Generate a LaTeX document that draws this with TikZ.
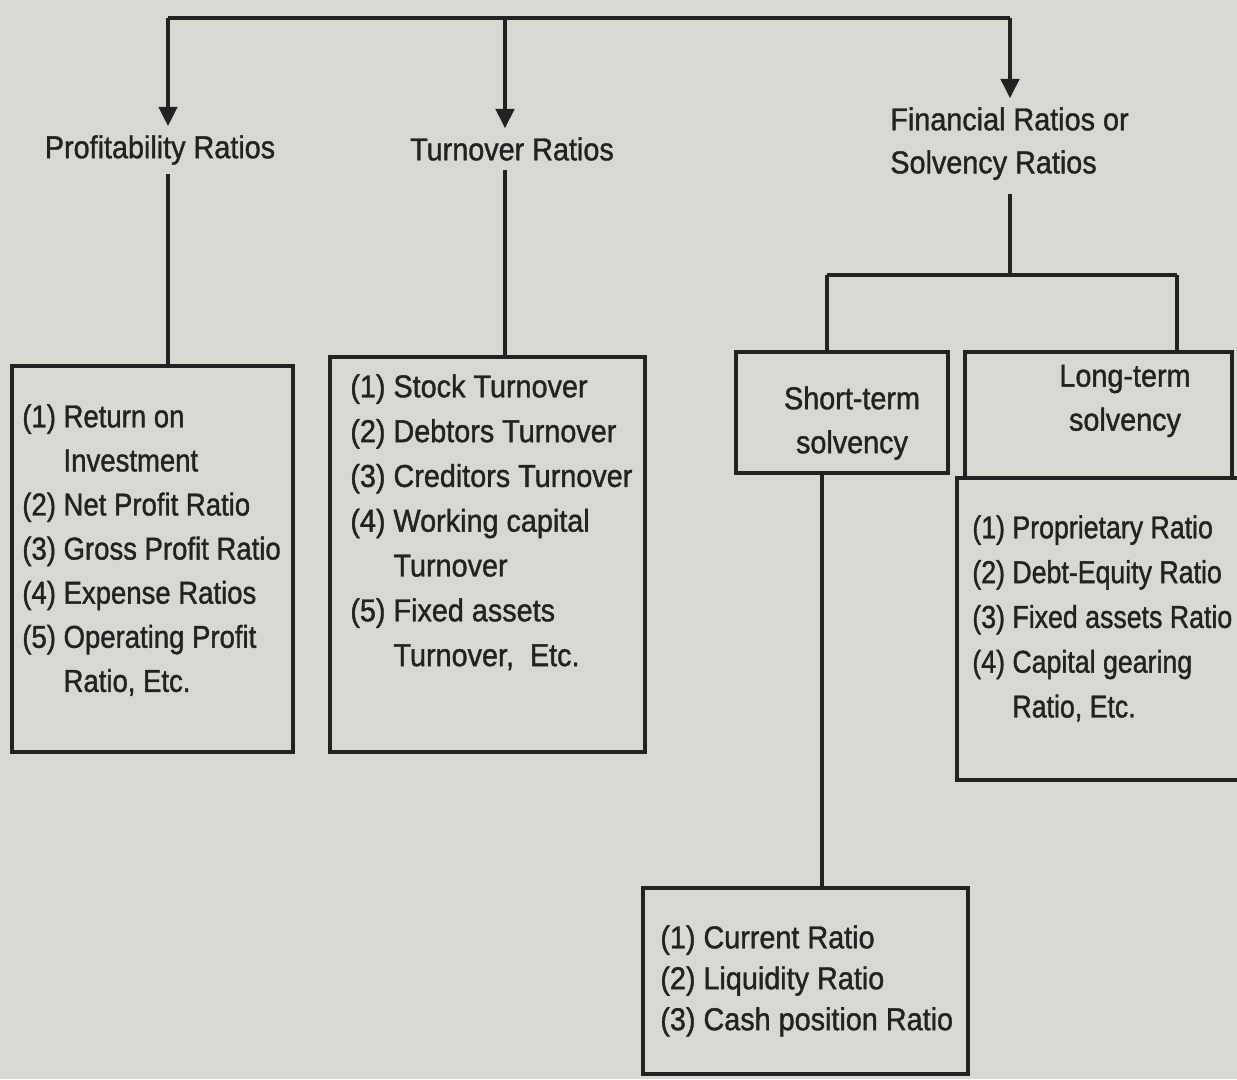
\documentclass[tikz,border=0pt]{standalone}
\usepackage{fontspec}
\setmainfont[FakeStretch=0.91,FakeBold=1.2]{Liberation Sans}
\newfontfamily\narrowfont[FakeStretch=0.87,FakeBold=1.2]{Liberation Sans}
\newfontfamily\tightfont[FakeStretch=0.845,FakeBold=1.2]{Liberation Sans}
\usetikzlibrary{arrows.meta,fit}
\definecolor{paper}{RGB}{216,215,210}
\definecolor{ink}{RGB}{34,34,34}
\begin{document}
\begin{tikzpicture}[x=0.02cm,y=-0.02cm,
  line/.style={draw=ink,line width=2pt},
  arr/.style={line,-{Triangle[length=11pt,width=10.5pt]},shorten >=5pt},
  box/.style={draw=ink,line width=2pt,inner sep=0pt},
  lbl/.style={text=ink,font=\fontsize{18}{25}\selectfont,inner sep=0pt,align=left},
  headlbl/.style={lbl,align=center}]
\clip (0,0) rectangle (1237,1079);
\fill[paper] (0,0) rectangle (1237,1079);

% headings
\node[headlbl] (pl) at (160,150) {Profitability Ratios};
\node[headlbl] (tl) at (512,149) {Turnover Ratios};
\node[lbl,anchor=north west,font=\fontsize{18}{24.5}\selectfont] (fl) at (890,107)
  {Financial Ratios or\\Solvency Ratios};

% boxes
\node[box,fit={(12,366) (293,752)}] (b1) {};
\node[box,fit={(330,357) (645,752)}] (b2) {};
\node[box,fit={(736,352) (948,473)}] (st) {};
\node[box,fit={(965,352) (1232,478)}] (lt) {};
\node[box,fit={(957,478) (1250,780)}] (lr) {};
\node[box,fit={(643,888) (968,1074)}] (cr) {};

% box texts
\node[lbl,anchor=north west,font=\narrowfont\fontsize{18}{25.1}\selectfont] (t1) at (22,404)
  {(1) Return on\\\phantom{(1)~}Investment\\(2) Net Profit Ratio\\(3) Gross Profit Ratio\\(4) Expense Ratios\\(5) Operating Profit\\\phantom{(5)~}Ratio, Etc.};
\node[lbl,anchor=north west,font=\fontsize{18}{25.5}\selectfont] (t2) at (350,374)
  {(1) Stock Turnover\\(2) Debtors Turnover\\(3) Creditors Turnover\\(4) Working capital\\\phantom{(4)~}Turnover\\(5) Fixed assets\\\phantom{(5)~}Turnover,~ Etc.};
\node[lbl,align=center] (t3) at (852,423) {Short-term\\solvency};
\node[lbl,align=center] (t4) at (1125,401) {Long-term\\solvency};
\node[lbl,anchor=north west,font=\tightfont\fontsize{18}{25.5}\selectfont] (t5) at (972,515)
  {(1) Proprietary Ratio\\(2) Debt-Equity Ratio\\(3) Fixed assets Ratio\\(4) Capital gearing\\\phantom{(4)~}Ratio, Etc.};
\node[lbl,anchor=north west,font=\fontsize{18}{23.3}\selectfont] (t6) at (660,925)
  {(1) Current Ratio\\(2) Liquidity Ratio\\(3) Cash position Ratio};

% top bus with arrows
\coordinate (bL) at (168,18);
\coordinate (bM) at (505,18);
\coordinate (bR) at (1010,18);
\draw[line,line width=2.4pt] (bL) -- (bR);
\draw[arr] (bL) -- (bL |- pl.north);
\draw[arr] (bM) -- (bM |- tl.north);
\draw[arr] (bR) -- (bR |- fl.north);

% drops to the lists
\draw[line,shorten <=5pt] (bL |- pl.south) -- (bL |- b1.north);
\draw[line,shorten <=5pt] (bM |- tl.south) -- (bM |- b2.north);

% solvency split
\coordinate (sL) at (827,275);
\coordinate (sR) at (1177,275);
\draw[line,shorten <=8pt] (bR |- fl.south) -- (bR |- sL);
\draw[line] (sL) -- (sR);
\draw[line] (sL) -- (sL |- st.north);
\draw[line] (sR) -- (sR |- lt.north);

% short-term list
\coordinate (sd) at (822,480);
\draw[line] (sd |- st.south) -- (sd |- cr.north);
\end{tikzpicture}
\end{document}
